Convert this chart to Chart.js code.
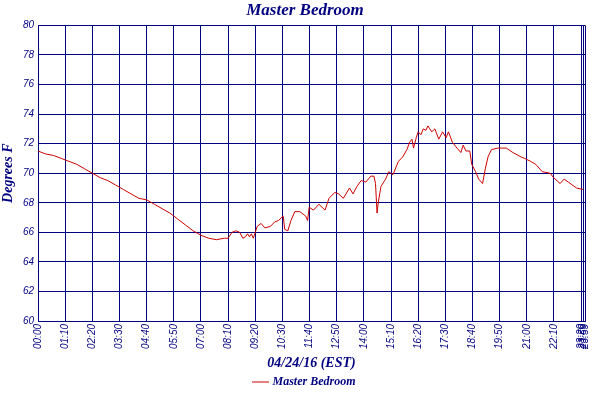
<!DOCTYPE html>
<html><head><meta charset="utf-8">
<script src="https://cdn.jsdelivr.net/npm/chart.js@4"></script>
<style>html,body{margin:0;padding:0;background:#fff}#w{width:600px;height:400px}</style>
</head><body><div id="w"><canvas id="c"></canvas></div>
<script>
const minutes = [0,20,40,60,80,100,120,140,160,180,200,220,240,260,280,300,320,340,360,380,400,420,440,460,480,490,500,510,520,528,535,540,545,550,555,565,575,585,599,610,620,632,636,644,652,662,675,690,695,699,710,724,740,750,765,775,787,803,812,822,833,845,858,866,870,874,877,884,896,904,915,929,940,951,958,964,968,975,980,987,993,1000,1005,1010,1015,1023,1033,1043,1052,1058,1068,1080,1090,1096,1103,1113,1118,1128,1136,1146,1153,1160,1169,1186,1207,1224,1245,1254,1270,1283,1300,1320,1329,1346,1356,1367,1388,1405];
const temps = [71.5,71.3,71.2,71.0,70.8,70.6,70.3,70.0,69.7,69.5,69.2,68.9,68.6,68.3,68.2,67.9,67.6,67.3,66.9,66.5,66.1,65.8,65.6,65.5,65.6,65.6,66.0,66.1,66.0,65.6,65.7,65.9,65.7,65.9,65.6,66.4,66.6,66.3,66.4,66.7,66.8,67.1,66.2,66.1,66.8,67.4,67.4,67.1,66.8,67.7,67.5,67.9,67.5,68.3,68.7,68.6,68.3,69.0,68.6,69.1,69.5,69.4,69.8,69.8,69.3,67.3,68.0,69.1,69.6,70.1,69.9,70.8,71.1,71.6,72.1,72.3,71.7,72.4,72.8,72.6,73.0,72.9,73.2,73.0,72.8,73.0,72.3,72.8,72.4,72.8,72.1,71.7,71.4,71.9,71.5,71.5,70.6,70.1,69.6,69.3,70.3,71.1,71.6,71.7,71.7,71.4,71.1,71.0,70.8,70.6,70.1,70.0,69.7,69.3,69.6,69.4,69.0,68.9];
const xTickMinutes = [0,70,140,210,280,350,420,490,560,630,700,770,840,910,980,1050,1120,1190,1260,1330,1400,1405,1410];
const xTickLabels = ["00:00","01:10","02:20","03:30","04:40","05:50","07:00","08:10","09:20","10:30","11:40","12:50","14:00","15:10","16:20","17:30","18:40","19:50","21:00","22:10","23:20","23:59","23:59"];
const navy = '#000080';
new Chart(document.getElementById('c'), {
  type: 'line',
  data: { datasets: [{ label: 'Master Bedroom', data: minutes.map((m,i)=>({x:m,y:temps[i]})),
    borderColor: '#cc0000', backgroundColor:'#cc0000', borderWidth: 1, pointRadius: 0, tension: 0 }] },
  options: {
    responsive: true, maintainAspectRatio: false, animation: false,
    layout: { padding: { left: 0, right: -10, top: 0, bottom: 2 } },
    plugins: {
      title: { display: true, text: 'Master Bedroom', color: navy,
        font: { family: 'Liberation Serif', size: 17, style: 'italic', weight: 'bold' }, padding: { top: 0, bottom: 5 } },
      legend: { position: 'bottom', labels: { color: navy, usePointStyle: true, pointStyle: 'line', boxWidth: 14,
        font: { family: 'Liberation Serif', size: 12, style: 'italic', weight: 'bold' }, padding: 2 } },
      tooltip: { enabled: false }
    },
    scales: {
      x: { type: 'linear', min: 0, max: 1410,
        afterBuildTicks: s => { s.ticks = xTickMinutes.map(v=>({value:v})); },
        afterFit: s => { s.height = 53; },
        ticks: { autoSkip: false, minRotation: 90, maxRotation: 90, color: navy, padding: 3,
          font: { family: 'Liberation Sans', size: 10, style: 'italic' },
          callback: (v, i) => xTickLabels[i] },
        grid: { color: navy, lineWidth: 1, drawTicks: false },
        border: { color: navy },
        title: { display: true, text: '04/24/16 (EST)', color: navy, padding: 2,
          font: { family: 'Liberation Serif', size: 14, style: 'italic', weight: 'bold' } } },
      y: { min: 60, max: 80,
        afterFit: s => { s.width = 38; },
        ticks: { stepSize: 2, color: navy, padding: 4, font: { family: 'Liberation Sans', size: 10, style: 'italic' } },
        grid: { color: navy, lineWidth: 1, drawTicks: false },
        border: { color: navy },
        title: { display: true, text: 'Degrees F', color: navy, padding: 0,
          font: { family: 'Liberation Serif', size: 14, style: 'italic', weight: 'bold' } } }
    }
  }
});
</script></body></html>
